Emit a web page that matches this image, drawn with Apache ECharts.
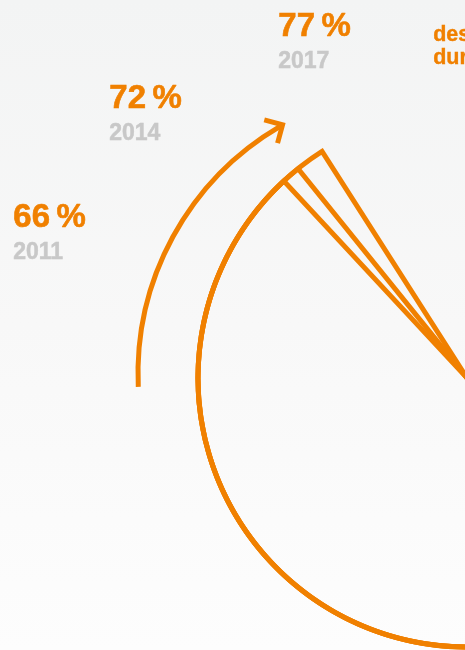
<!DOCTYPE html>
<html>
<head>
<meta charset="utf-8">
<script src="https://cdn.jsdelivr.net/npm/echarts@6/dist/echarts.min.js"></script>
<style>
  html, body { margin: 0; padding: 0; }
  #chart {
    width: 465px;
    height: 650px;
    background: linear-gradient(to bottom, #f3f4f4 0%, #f8f8f8 50%, #fdfdfd 100%);
  }
</style>
</head>
<body>
<div id="chart"></div>
<script>
// share of demand covered, by survey year
const years = ['2011', '2014', '2017'];
const shares = [66, 72, 77];
const headline = ['des Bedarfs', 'durch eigene Erzeugung'];

const ORANGE = '#f08000';
const GREY = '#c8c8c8';
const FONT = '"Liberation Sans", Arial, sans-serif';

(() => {
  const chart = echarts.init(document.getElementById('chart'), null, { renderer: 'canvas' });

  // where each sector's leading edge sits (degrees, ccw from 3 o'clock)
  const edgeAngles = [132.9, 128.9, 122.6];
  // label anchors, one per year
  const labelPos = [[13, 201], [109, 82], [278, 10]];

  const pieSeries = shares.map((v, i) => ({
    type: 'pie',
    name: years[i],
    silent: true,
    animation: false,
    center: [467, 378],
    radius: [0, 269],
    startAngle: edgeAngles[i],
    clockwise: false,
    label: { show: false },
    labelLine: { show: false },
    emphasis: { disabled: true },
    z: 2 + i,
    data: [
      {
        value: v,
        itemStyle: { color: 'rgba(0,0,0,0)', borderColor: ORANGE, borderWidth: 5, borderJoin: 'miter' },
      },
      {
        value: 100 - v,
        itemStyle: { color: 'rgba(0,0,0,0)', borderWidth: 0 },
      },
    ],
  }));

  const texts = [];
  shares.forEach((v, i) => {
    const [x, y] = labelPos[i];
    texts.push({
      type: 'text', left: x, top: y, silent: true,
      style: { text: v + '\u2009%', fill: ORANGE, stroke: ORANGE, lineWidth: 0.6, font: 'bold 33px ' + FONT },
    });
    texts.push({
      type: 'text', left: x, top: y + 40, silent: true,
      style: { text: years[i], fill: GREY, stroke: GREY, lineWidth: 0.5, font: 'bold 23px ' + FONT },
    });
  });
  headline.forEach((t, i) => {
    texts.push({
      type: 'text', left: 433, top: 24 + i * 23, silent: true,
      style: { text: t, fill: ORANGE, stroke: ORANGE, lineWidth: 0.4, font: 'bold 21.5px ' + FONT },
    });
  });

  // growth arrow
  const acx = 425, acy = 374, ar = 287;
  const tipA = 4.193;
  const tip = [acx + ar * Math.cos(tipA), acy + ar * Math.sin(tipA)];
  const back = [Math.sin(tipA), -Math.cos(tipA)];
  const perp = [-back[1], back[0]];
  const w = 13.4;
  const wing1 = [tip[0] + w * (back[0] + perp[0]), tip[1] + w * (back[1] + perp[1])];
  const wing2 = [tip[0] + w * (back[0] - perp[0]), tip[1] + w * (back[1] - perp[1])];

  texts.push({
    type: 'arc', silent: true, z: 1,
    shape: { cx: acx, cy: acy, r: ar, startAngle: 3.097, endAngle: tipA - 0.01, clockwise: true },
    style: { stroke: ORANGE, lineWidth: 5, fill: null, lineCap: 'butt' },
  });
  texts.push({
    type: 'polyline', silent: true, z: 1,
    shape: { points: [wing1, tip, wing2] },
    style: { stroke: ORANGE, lineWidth: 5, fill: null, lineJoin: 'miter', lineCap: 'butt' },
  });

  chart.setOption({
    animation: false,
    backgroundColor: 'transparent',
    tooltip: { show: false },
    series: pieSeries,
    graphic: texts,
  });
  window.addEventListener('resize', () => chart.resize());
})();
</script>
</body>
</html>
